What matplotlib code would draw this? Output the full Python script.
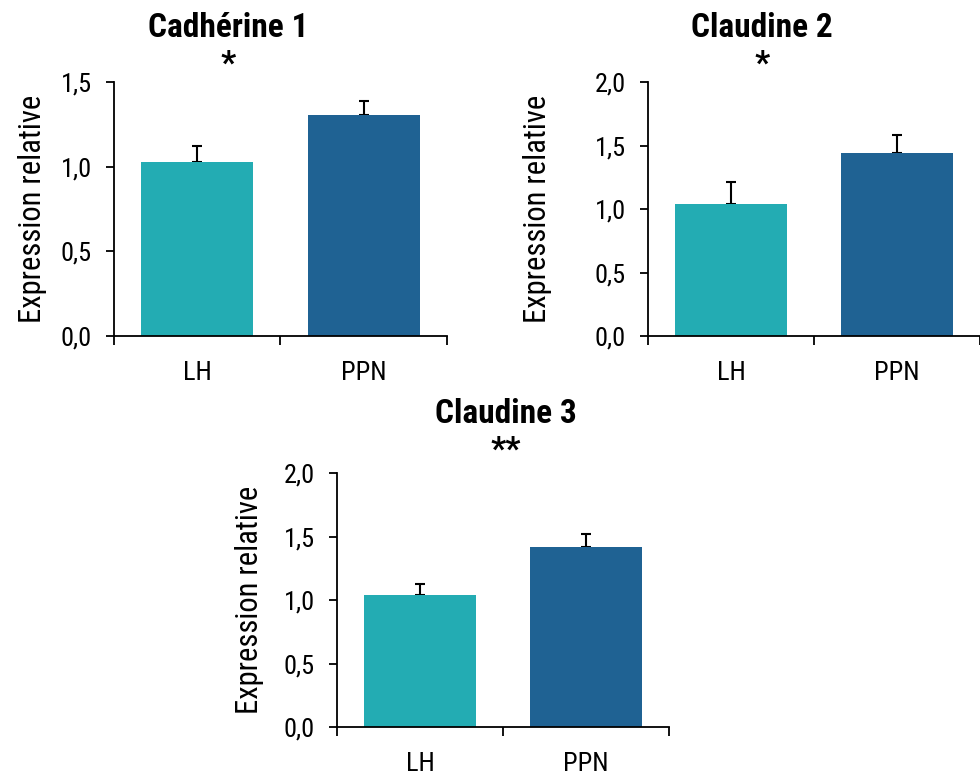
import matplotlib.pyplot as plt
from matplotlib import font_manager

# narrow sans close to Arial Narrow, falls back to Liberation Sans
names = {f.name for f in font_manager.fontManager.ttflist}
FONT = 'Liberation Sans'
for cand in ['Liberation Sans Narrow', 'Roboto Condensed', 'Archivo Narrow']:
    if cand in names:
        FONT = cand
        break
plt.rcParams['font.family'] = [FONT, 'DejaVu Sans']

groups = ['LH', 'PPN']
colors = ['#23ACB3', '#1F6293']

titles = ['Cadhérine 1', 'Claudine 2', 'Claudine 3']
stars = ['*', '*', '**']
means = [[1.03, 1.305], [1.04, 1.44], [1.04, 1.417]]
errs = [[0.095, 0.083], [0.17, 0.14], [0.09, 0.10]]
ymax = [1.5, 2.0, 2.0]
yticks = [[0, 0.5, 1.0, 1.5], [0, 0.5, 1.0, 1.5, 2.0], [0, 0.5, 1.0, 1.5, 2.0]]
ytick_labels = [['0,0', '0,5', '1,0', '1,5'],
                ['0,0', '0,5', '1,0', '1,5', '2,0'],
                ['0,0', '0,5', '1,0', '1,5', '2,0']]

# layout (figure fraction)
ax_rects = [[0.1163, 0.567, 0.3398, 0.3273],
            [0.6612, 0.567, 0.3388, 0.3273],
            [0.3439, 0.0631, 0.3388, 0.3273]]
ylabel_x = [-0.20, -0.29, -0.22]
title_pos = [(228 / 980, 0.9523), (762 / 980, 0.9523), (506 / 980, 0.4549)]

fig = plt.figure(figsize=(9.8, 7.76), dpi=100)

for i in range(3):
    ax = fig.add_axes(ax_rects[i])
    x = range(len(groups))
    ax.bar(x, means[i], width=0.67, color=colors, zorder=2)
    ax.errorbar(x, means[i], yerr=[[0, 0], errs[i]], fmt='none', ecolor='black',
                elinewidth=1.5, capsize=3.6, capthick=1.5, zorder=1)
    ax.set_xlim(-0.5, 1.5)
    ax.set_ylim(0, ymax[i])
    ax.set_yticks(yticks[i])
    ax.set_yticklabels(ytick_labels[i])
    ax.set_xticks([-0.5, 0.5, 1.5])
    ax.set_xticklabels([])
    ax.set_xticks([0, 1], minor=True)
    ax.set_xticklabels(groups, minor=True)
    ax.tick_params(axis='x', which='minor', length=0, pad=18, labelsize=19)
    ax.tick_params(axis='x', which='major', direction='out', length=6.5, width=1.3)
    ax.tick_params(axis='y', direction='out', length=5.8, width=1.3, pad=10, labelsize=19)
    for s in ['top', 'right']:
        ax.spines[s].set_visible(False)
    for s in ['left', 'bottom']:
        ax.spines[s].set_linewidth(1.3)
    ax.set_ylabel('Expression relative', fontsize=22)
    ax.yaxis.set_label_coords(ylabel_x[i], 0.5)

    tx, ty = title_pos[i]
    fig.text(tx, ty, titles[i], ha='center', va='baseline', fontsize=24, fontweight='bold')
    fig.text(tx, ty - 0.047, stars[i], ha='center', va='baseline', fontsize=24, fontweight='bold')

fig.savefig('out.png', dpi=100)
